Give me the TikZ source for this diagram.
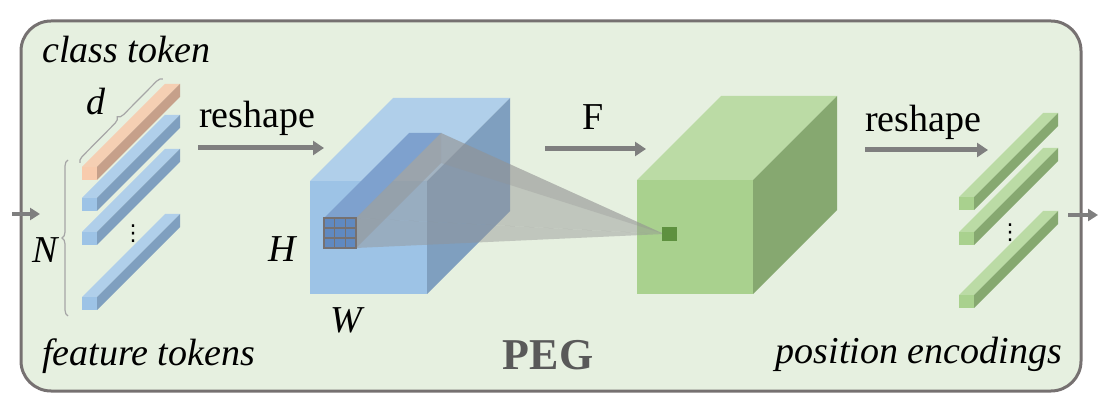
\documentclass[tikz,border=0pt]{standalone}
\usepackage{fontspec}
\setmainfont{Liberation Serif}
\newfontfamily\dotsfont{DejaVu Sans}
\usetikzlibrary{arrows.meta,decorations.pathreplacing}

\definecolor{bgpanel}{HTML}{E6F0E0}
\definecolor{framegray}{HTML}{767171}
\definecolor{arrowgray}{HTML}{7F7F7F}
\definecolor{pegtext}{HTML}{595959}
\definecolor{blueF}{HTML}{9DC3E6}
\definecolor{blueT}{HTML}{B0CFEA}
\definecolor{blueS}{HTML}{7F9FBF}
\definecolor{orangeF}{HTML}{F8CBAD}
\definecolor{orangeT}{HTML}{F5CFB3}
\definecolor{orangeS}{HTML}{C6A08A}
\definecolor{greenF}{HTML}{A9D18E}
\definecolor{greenT}{HTML}{BBDBA5}
\definecolor{greenS}{HTML}{86A870}
\definecolor{colT}{HTML}{7EA1CE}
\definecolor{gridF}{HTML}{6089C0}
\definecolor{pixgreen}{HTML}{5E913F}

% prism: top-left of front face (x,y), width, height, depth, front/top/side colours
\newcommand{\prism}[8]{%
  \fill[#7] (#1,#2) -- ++(#5,-#5) -- ++(#3,0) -- ++(-#5,#5) -- cycle;
  \fill[#8] (#1+#3,#2) -- ++(#5,-#5) -- ++(0,#4) -- ++(-#5,#5) -- cycle;
  \fill[#6] (#1,#2) rectangle ++(#3,#4);
}

\tikzset{
  flow/.style={draw=arrowgray, line width=5pt, -{Triangle[length=11pt,width=14pt]}},
  io/.style={draw=arrowgray, line width=3.5pt, -{Triangle[length=10pt,width=12pt]}},
  lbl/.style={inner sep=0pt, font=\fontsize{38}{42}\selectfont},
  ilbl/.style={lbl, font=\fontsize{38}{42}\selectfont\itshape},
  vdotslbl/.style={inner sep=0pt, font=\dotsfont\fontsize{22}{22}\selectfont},
  bracegray/.style={draw=gray!70, line width=1.2pt, decorate,
    decoration={brace, amplitude=6pt}}
}

\begin{document}
\begin{tikzpicture}[x=1pt, y=-1pt]
  \useasboundingbox (0,0) rectangle (1105,411);

  % panel
  \draw[line width=3pt, draw=framegray, fill=bgpanel, rounded corners=30pt]
    (21,21) rectangle (1081,391);

  % input / output arrows
  \coordinate (inA) at (12,214);
  \coordinate (inB) at (40,214);
  \coordinate (outA) at (1068,215);
  \coordinate (outB) at (1098,215);
  \draw[io] (inA) -- (inB);
  \draw[io] (outA) -- (outB);

  % class token and feature tokens
  \prism{82}{167}{15}{13}{83}{orangeF}{orangeT}{orangeS}
  \foreach \ty in {198,232,297} {
    \prism{82}{\ty}{15}{13}{83}{blueF}{blueT}{blueS}
  }
  \node[vdotslbl] (vdotsL) at (133,234) {⋮};

  % braces
  \coordinate (dA) at (80,163);
  \coordinate (dB) at (163,79);
  \draw[bracegray] (dA) -- (dB);
  \coordinate (nA) at (68,316);
  \coordinate (nB) at (68,160);
  \draw[bracegray] (nA) -- (nB);

  \node[ilbl, anchor=base] (dlab) at (96,115) {d};
  \node[ilbl, anchor=base] (nlab) at (45,263) {N};
  \node[ilbl, anchor=base west] (cls) at (42,63) {class token};
  \node[ilbl, anchor=base west] (feat) at (42,365) {feature tokens};

  % reshape arrow
  \coordinate (rsA) at (198,148);
  \coordinate (rsB) at (324,148);
  \draw[flow] (rsA) -- (rsB);
  \node[lbl, anchor=base west] (rs1) at (199,128) {reshape};

  % feature map cube
  \prism{310}{181}{117}{113}{83}{blueF}{blueT}{blueS}
  \node[ilbl, anchor=base] (hlab) at (282,262) {H};
  \node[ilbl, anchor=base] (wlab) at (346,333) {W};

  % F arrow
  \coordinate (fA) at (545,149);
  \coordinate (fB) at (646,149);
  \draw[flow] (fA) -- (fB);
  \node[lbl, anchor=base] (flab) at (593,130) {F};

  % output cube
  \prism{637}{180}{116}{114}{84}{greenF}{greenT}{greenS}

  % receptive column
  \fill[colT] (324,218) -- ++(85,-85) -- ++(32,0) -- ++(-85,85) -- cycle;

  % projection cone
  \coordinate (pix) at (664,234);
  \fill[gray!85, opacity=0.45] (356,218) -- (441,133) -- (441,163) -- (356,248) -- cycle;
  \fill[gray!85, opacity=0.45] (356,218) -- (441,133) -- (pix) -- cycle;
  \fill[gray!85, opacity=0.45] (356,218) -- (356,248) -- (pix) -- cycle;
  \fill[gray!85, opacity=0.3] (441,133) -- (441,163) -- (pix) -- cycle;

  % 3x3 kernel
  \fill[gridF] (324,218) rectangle (356,248);
  \foreach \gx in {334.7,345.3} {
    \draw[framegray, line width=1.2pt] (\gx,218) -- (\gx,248);
  }
  \foreach \gy in {228,238} {
    \draw[framegray, line width=1.2pt] (324,\gy) -- (356,\gy);
  }
  \draw[framegray, line width=1.2pt] (324,218) rectangle (356,248);

  % output pixel
  \fill[pixgreen] (662,227) rectangle (677,241);

  % second reshape
  \coordinate (rs2A) at (865,150);
  \coordinate (rs2B) at (988,150);
  \draw[flow] (rs2A) -- (rs2B);
  \node[lbl, anchor=base west] (rs2) at (865,132) {reshape};

  % position encodings
  \foreach \ty in {197,232,295} {
    \prism{959}{\ty}{15}{13}{84}{greenF}{greenT}{greenS}
  }
  \node[vdotslbl] (vdotsR) at (1010,233) {⋮};
  \node[ilbl, anchor=base east] (pos) at (1062,363) {position encodings};

  \node[anchor=base, inner sep=0pt, text=pegtext, font=\fontsize{44}{48}\selectfont\bfseries] (peg) at (548,369) {PEG};
\end{tikzpicture}
\end{document}
